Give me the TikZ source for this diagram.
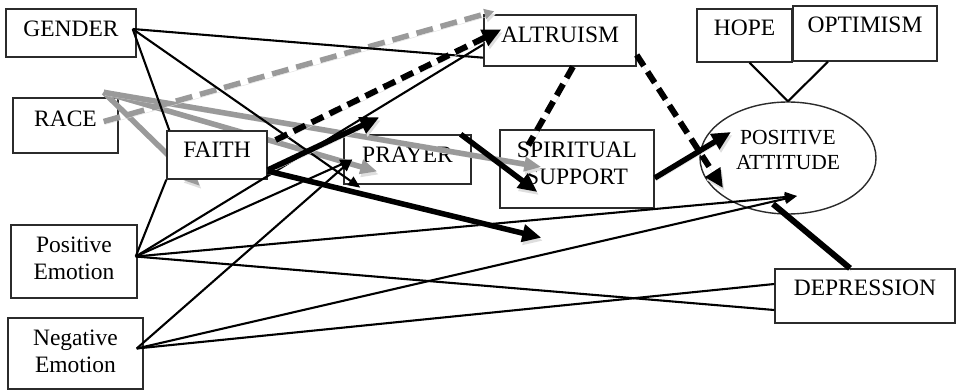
\documentclass[tikz,border=0pt]{standalone}
\usepackage{fontspec}
\setmainfont{Liberation Serif}
\usetikzlibrary{arrows.meta,shapes.geometric}
\definecolor{pathgray}{HTML}{9A9A9A}
\definecolor{boxline}{HTML}{2B2B2B}

\begin{document}
\begin{tikzpicture}[
    x=1pt, y=-1pt,
    font=\fontsize{23.5}{27}\selectfont,
    varbox/.style={draw=boxline, line width=1.4pt, fill=white,
        inner sep=0pt, align=center, text depth=10pt},
    drop/.style={preaction={draw=black!13, transform canvas={shift={(1.5pt,-3pt)}}}},
    thinpath/.style={line width=2.1pt},
    thinarrow/.style={thinpath, -{Triangle[length=12pt,width=10pt]}},
    thickarrow/.style={drop, line width=5.5pt, -{Triangle[length=19pt,width=17pt]}},
    thickpath/.style={drop, line width=6pt},
    grayarrow/.style={drop, pathgray, line width=5.5pt,
        -{Triangle[length=17pt,width=14pt]}},
    blackdash/.style={drop, line width=6pt, dash pattern=on 13pt off 7pt},
    graydash/.style={drop, pathgray, line width=5.5pt, dash pattern=on 17pt off 8pt},
]
\useasboundingbox (0,0) rectangle (956,390);

% =====================================================
% Predictors (left column)
% =====================================================
\node[varbox, minimum width=130pt, minimum height=48pt, text depth=8pt] (gender) at (71,33) {GENDER};
\node[varbox, minimum width=105pt, minimum height=55pt, text depth=13pt] (race) at (65.5,125.5) {RACE};
\node[varbox, minimum width=126pt, minimum height=73pt, text depth=6pt] (posemo) at (74,261.5)
    {Positive\\Emotion};
\node[varbox, minimum width=135pt, minimum height=71pt, text depth=4pt] (negemo) at (75.5,353.5)
    {Negative\\Emotion};

% =====================================================
% Mediators
% =====================================================
\node[varbox, minimum width=152pt, minimum height=51pt, text depth=11pt] (altruism) at (560,40.5) {ALTRUISM};
\node[varbox, minimum width=127pt, minimum height=49pt, text depth=9pt] (prayer) at (407.5,159.5) {PRAYER};
\node[varbox, minimum width=154pt, minimum height=78pt, text depth=11pt] (spiritual) at (577,169)
    {SPIRITUAL\\SUPPORT};

% =====================================================
% Outcome side
% =====================================================
\node[varbox, minimum width=95pt, minimum height=53pt, text depth=15pt] (hope) at (744.5,35.5) {HOPE};
\node[varbox, minimum width=144pt, minimum height=55pt, text depth=17pt] (optimism) at (865,33.5) {OPTIMISM};
\node[draw=boxline, line width=1.4pt, ellipse, minimum width=176pt, minimum height=112pt,
    inner sep=0pt, align=center, text depth=16pt, font=\fontsize{21.5}{25}\selectfont]
    (attitude) at (788,158) {POSITIVE\\ATTITUDE};
\node[varbox, minimum width=180pt, minimum height=54pt, text depth=16pt] (depression) at (865,296) {DEPRESSION};

% --- hubs where the lines leave the boxes ---
\coordinate (genderout) at ([xshift=-4pt,yshift=4pt]gender.east);
\coordinate (raceout) at ([xshift=-15pt,yshift=5pt]race.north east);
\coordinate (posout) at ([xshift=-2pt,yshift=5pt]posemo.east);
\coordinate (negout) at ([xshift=-7pt,yshift=5pt]negemo.east);
\coordinate (faithtip) at (200,186);

% =====================================================
% RACE: gray paths (FAITH sits on top of them)
% =====================================================
\draw[grayarrow] (raceout) -- (faithtip);
\draw[grayarrow] (raceout) -- ([xshift=34pt,yshift=-12pt]prayer.west);
\draw[grayarrow] (raceout) -- ([xshift=42pt,yshift=2pt]spiritual.west);
\draw[graydash, -{Triangle[length=10pt,width=10pt]}]
    ([xshift=-15pt,yshift=4pt]race.east) -- ([xshift=11pt,yshift=3pt]altruism.north west);

\node[varbox, minimum width=100pt, minimum height=48pt] (faith) at (217,155) {FAITH};

% =====================================================
% GENDER and emotion paths (thin)
% =====================================================
\draw[thinpath] (genderout) -- ([yshift=9pt]altruism.south west);
\draw[thinpath] (genderout) -- ([xshift=3pt]faith.north west);
\draw[thinarrow] (genderout) -- ([xshift=17pt,yshift=-3pt]prayer.south west);

\draw[thinpath] (posout) -- (faith.south west);
\draw[thinpath] (posout) -- ([yshift=-4pt]altruism.west);
\draw[thinarrow] (posout) -- ([xshift=9pt]prayer.west);
\draw[thinarrow] (posout) -- ([xshift=9pt,yshift=-38pt]attitude.center);
\draw[thinpath] (posout) -- ([yshift=-14pt]depression.west);

\draw[thinarrow] (negout) -- ([xshift=9pt]prayer.west);
\draw[thinarrow] (negout) -- ([xshift=9pt,yshift=-38pt]attitude.center);
\draw[thinpath] (negout) -- ([yshift=12pt]depression.west);

% =====================================================
% Thick and dashed paths
% =====================================================
\draw[blackdash, -{Triangle[length=19pt,width=17pt]}]
    ([xshift=8pt,yshift=15pt]faith.east) -- ([xshift=18pt,yshift=11pt]altruism.west);
\draw[thickarrow] ([yshift=-15pt]faith.east) -- ([xshift=36pt,yshift=17pt]prayer.north west);
\draw[thickarrow] ([yshift=-16pt]faith.east) -- ([xshift=42pt,yshift=-29pt]spiritual.south west);
\draw[thickarrow] ([xshift=-11pt]prayer.north east) -- ([xshift=38pt,yshift=-23pt]spiritual.west);

\draw[blackdash] ([xshift=13pt]altruism.south) -- ([xshift=29pt,yshift=-16pt]spiritual.north west);
\draw[blackdash, -{Triangle[length=19pt,width=17pt]}]
    ([yshift=-14.5pt]altruism.east) -- ([xshift=-65pt,yshift=-30pt]attitude.center);
\draw[thickarrow] ([yshift=-9pt]spiritual.east) -- ([xshift=-57pt,yshift=26pt]attitude.center);
\draw[thickpath] ([xshift=-15pt]depression.north) -- ([xshift=-15pt,yshift=-46pt]attitude.center);

\draw[thinpath] ([xshift=5pt]hope.south) -- (attitude.north);
\draw[thinpath] ([xshift=-37pt]optimism.south) -- (attitude.north);

\end{tikzpicture}
\end{document}
